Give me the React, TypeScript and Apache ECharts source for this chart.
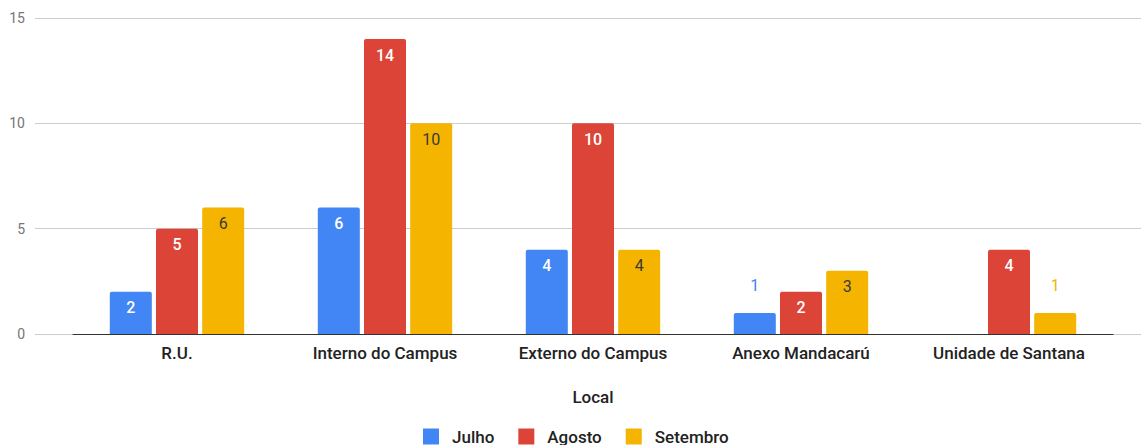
import React, { useEffect, useRef } from "react";
import * as echarts from "echarts";

const categories = ["R.U.", "Interno do Campus", "Externo do Campus", "Anexo Mandacarú", "Unidade de Santana"];
const julho: (number | null)[] = [2, 6, 4, 1, null];
const agosto: (number | null)[] = [5, 14, 10, 2, 4];
const setembro: (number | null)[] = [6, 10, 4, 3, 1];
const yTicks = [0, 5, 10, 15];

const COLORS = ["#4285F4", "#DB4437", "#F4B400"];
const FONT = "Roboto";

function mkData(values: (number | null)[], color: string) {
  return values.map((v) =>
    v === 1
      ? { value: v, label: { position: "top", distance: 19, color, fontWeight: "normal" } }
      : { value: v }
  );
}

export default function App() {
  const ref = useRef<HTMLDivElement>(null);
  useEffect(() => {
    const chart = echarts.init(ref.current!, null, { renderer: "svg" });
    const grid = { top: 18, bottom: 111 };
    const insideLabel = (color: string, weight: string | number) => ({
      show: true,
      position: "insideTop",
      distance: 8,
      color,
      fontFamily: FONT,
      fontSize: 16,
      fontWeight: weight,
    });
    chart.setOption({
      animation: false,
      textStyle: { fontFamily: FONT },
      grid: [
        { left: 35, right: 0, ...grid },
        { left: 73, right: 28, ...grid },
      ],
      xAxis: [
        { gridIndex: 0, type: "value", show: false, min: 0, max: 1 },
        {
          gridIndex: 1,
          type: "category",
          data: categories,
          axisLine: { show: true, lineStyle: { color: "#333", width: 1 } },
          axisTick: { show: false },
          axisLabel: { color: "#222", fontFamily: FONT, fontSize: 17, fontWeight: 500, margin: 10 },
          name: "Local",
          nameLocation: "middle",
          nameGap: 54,
          nameTextStyle: { color: "#222", fontFamily: FONT, fontSize: 17, fontWeight: 500 },
        },
      ],
      yAxis: [
        {
          gridIndex: 0,
          type: "value",
          min: yTicks[0],
          max: yTicks[yTicks.length - 1],
          interval: 5,
          axisLine: { show: false },
          axisTick: { show: false },
          axisLabel: { color: "#757575", fontFamily: FONT, fontSize: 14, margin: 10 },
          splitLine: { lineStyle: { color: "#cccccc", width: 1 } },
        },
        {
          gridIndex: 1,
          type: "value",
          min: yTicks[0],
          max: yTicks[yTicks.length - 1],
          interval: 5,
          show: false,
          splitLine: { show: false },
        },
      ],
      legend: {
        left: 418,
        top: 423,
        itemWidth: 16,
        itemHeight: 16,
        itemGap: 24,
        icon: "rect",
        textStyle: { color: "#222", fontFamily: FONT, fontSize: 17, fontWeight: 500, padding: [0, 0, 0, 8] },
        data: ["Julho", "Agosto", "Setembro"],
      },
      series: [
        {
          name: "Julho",
          type: "bar",
          xAxisIndex: 1,
          yAxisIndex: 1,
          barWidth: 42,
          barGap: "10%",
          itemStyle: { color: COLORS[0], borderRadius: [2, 2, 0, 0] },
          label: insideLabel("#ffffff", 500),
          data: mkData(julho, COLORS[0]),
        },
        {
          name: "Agosto",
          type: "bar",
          xAxisIndex: 1,
          yAxisIndex: 1,
          barWidth: 42,
          barGap: "10%",
          itemStyle: { color: COLORS[1], borderRadius: [2, 2, 0, 0] },
          label: insideLabel("#ffffff", 500),
          data: mkData(agosto, COLORS[1]),
        },
        {
          name: "Setembro",
          type: "bar",
          xAxisIndex: 1,
          yAxisIndex: 1,
          barWidth: 42,
          barGap: "10%",
          itemStyle: { color: COLORS[2], borderRadius: [2, 2, 0, 0] },
          label: insideLabel("#3a3a3a", "normal"),
          data: mkData(setembro, COLORS[2]),
        },
      ],
    });
    return () => chart.dispose();
  }, []);
  return <div ref={ref} style={{ width: 1141, height: 445, position: "absolute", left: 0, top: 0 }} />;
}
